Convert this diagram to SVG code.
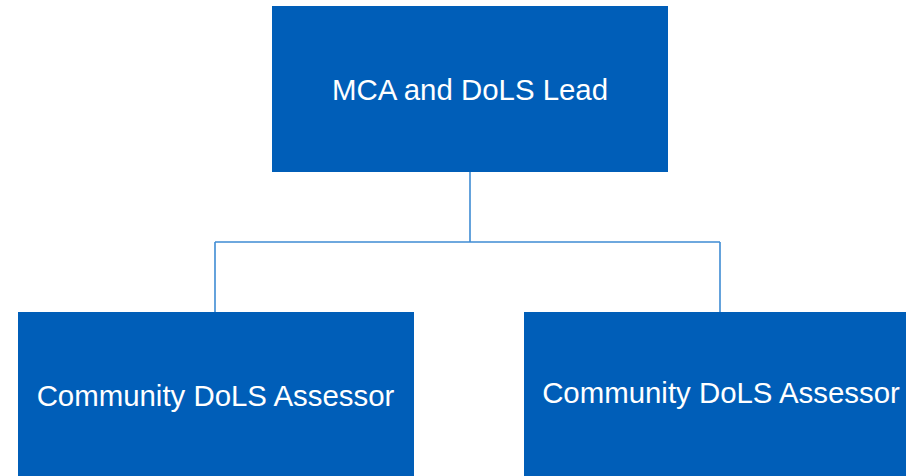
<svg xmlns="http://www.w3.org/2000/svg" width="906" height="476" viewBox="0 0 906 476">
<style>
.box{fill:#005EB8}
.lbl{font-family:"Liberation Sans",Arial,sans-serif;font-size:29.4px;fill:#ffffff;text-anchor:middle}
.conn{stroke:#3f8cd4;stroke-width:1.6;fill:none}
</style>
<rect width="906" height="476" fill="#ffffff"/>
<g id="connectors">
<path class="conn" d="M470,172 V242 M215,242 H720 M215,242 V312 M720,242 V312"/>
</g>
<g id="lead">
<rect class="box" x="272" y="6" width="396" height="166"/>
<text class="lbl" x="470" y="100">MCA and DoLS Lead</text>
</g>
<g id="assessor1">
<rect class="box" x="18" y="312" width="396" height="168"/>
<text class="lbl" x="215.5" y="406">Community DoLS Assessor</text>
</g>
<g id="assessor2">
<rect class="box" x="524" y="312" width="396" height="168"/>
<text class="lbl" x="721" y="403">Community DoLS Assessor</text>
</g>
</svg>
